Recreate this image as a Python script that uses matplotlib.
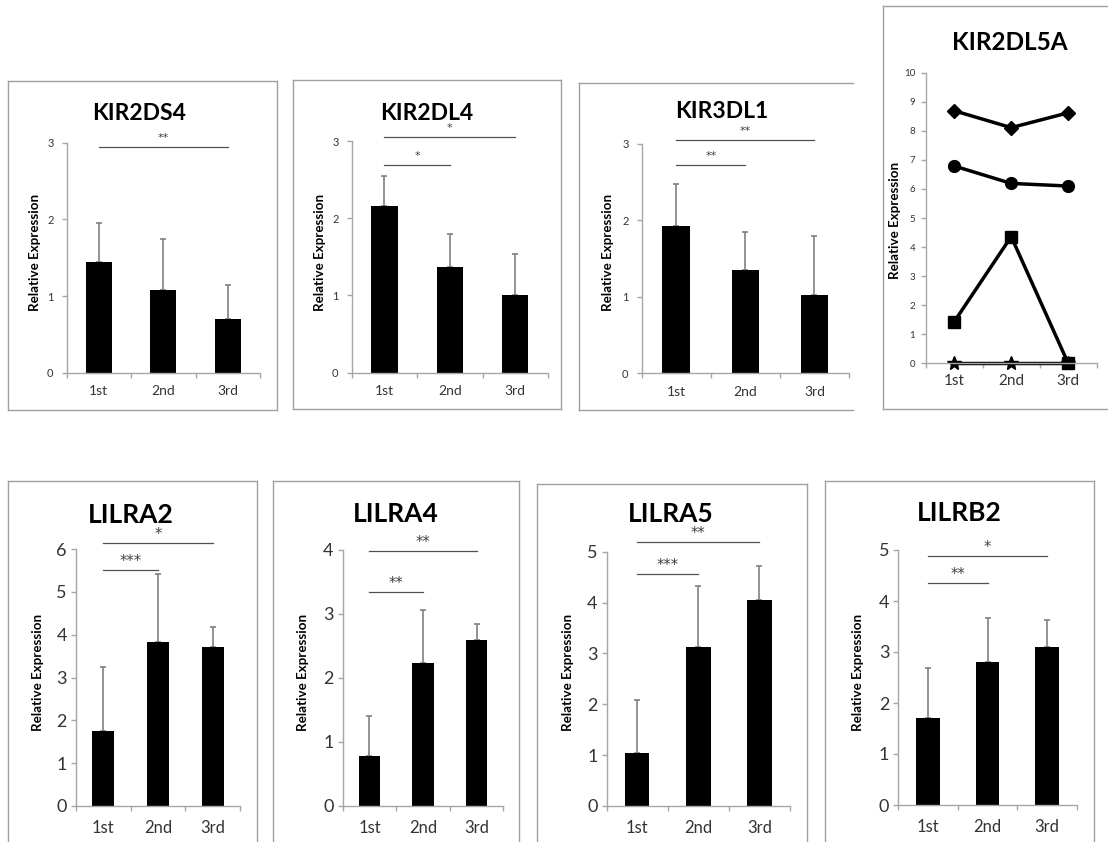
import numpy as np
import matplotlib
matplotlib.use("Agg")
import matplotlib.pyplot as plt
from matplotlib.lines import Line2D

plt.rcParams['font.family'] = ['Lato', 'DejaVu Sans']

W, H = 1108, 842
rounds = ["1st", "2nd", "3rd"]

# bar panels: mean relative expression and upper error (SD)
kir2ds4_mean = [1.44, 1.08, 0.70]
kir2ds4_err = [0.51, 0.66, 0.45]
kir2dl4_mean = [2.16, 1.37, 1.00]
kir2dl4_err = [0.39, 0.43, 0.54]
kir3dl1_mean = [1.93, 1.35, 1.03]
kir3dl1_err = [0.55, 0.50, 0.77]
lilra2_mean = [1.74, 3.82, 3.71]
lilra2_err = [1.50, 1.59, 0.46]
lilra4_mean = [0.78, 2.24, 2.59]
lilra4_err = [0.63, 0.82, 0.25]
lilra5_mean = [1.04, 3.12, 4.06]
lilra5_err = [1.04, 1.20, 0.66]
lilrb2_mean = [1.71, 2.81, 3.10]
lilrb2_err = [0.98, 0.86, 0.53]

# KIR2DL5A individual donors
kir2dl5a_a = [8.69, 8.11, 8.62]
kir2dl5a_b = [6.79, 6.19, 6.10]
kir2dl5a_c = [1.43, 4.36, 0.00]
kir2dl5a_d = [0.00, 0.00, 0.00]

# significance: (first group, second group, label)
kir2ds4_sig = [(0, 2, "**")]
kir2dl4_sig = [(0, 2, "*"), (0, 1, "*")]
kir3dl1_sig = [(0, 2, "**"), (0, 1, "**")]
lilra2_sig = [(0, 2, "*"), (0, 1, "***")]
lilra4_sig = [(0, 2, "**"), (0, 1, "**")]
lilra5_sig = [(0, 2, "**"), (0, 1, "***")]
lilrb2_sig = [(0, 2, "*"), (0, 1, "**")]

fig = plt.figure(figsize=(W / 100, H / 100), dpi=100)

def fx(x):
    return x / W

def fy(y):
    return 1 - y / H

def box(x0, y0, x1, y1, right=True, bottom=True):
    c = '#a0a0a0'
    segs = [((x0, x0), (y0, y1)), ((x0, x1), (y0, y0))]
    if right:
        segs.append(((x1, x1), (y0, y1)))
    if bottom:
        segs.append(((x0, x1), (y1, y1)))
    for xs, ys in segs:
        fig.add_artist(Line2D([fx(xs[0]), fx(xs[1])], [fy(ys[0]), fy(ys[1])],
                              color=c, lw=1.0, transform=fig.transFigure))

def make_axes(x0, x1, ybot, ytop, ymax, ytick_fs, xtick_fs, ypad, xpad, ystep=1):
    ax = fig.add_axes([fx(x0), fy(ybot), (x1 - x0) / W, (ybot - ytop) / H])
    ax.set_xlim(0, 3)
    ax.set_ylim(0, ymax)
    for s in ['top', 'right']:
        ax.spines[s].set_visible(False)
    for s in ['left', 'bottom']:
        ax.spines[s].set_color('#a6a6a6')
        ax.spines[s].set_linewidth(1.0)
    ax.set_yticks(np.arange(0, ymax + 0.01, ystep))
    ax.set_yticklabels([str(int(v)) for v in np.arange(0, ymax + 0.01, ystep)])
    ax.set_xticks([0, 1, 2, 3])
    ax.set_xticklabels([])
    ax.set_xticks([0.5, 1.5, 2.5], minor=True)
    ax.set_xticklabels(rounds, minor=True)
    ax.tick_params(axis='y', direction='out', length=3.5, width=1, color='#a6a6a6',
                   labelsize=ytick_fs, labelcolor='#333333', pad=ypad)
    ax.tick_params(axis='x', which='major', direction='out', length=3.5, width=1,
                   color='#a6a6a6')
    ax.tick_params(axis='x', which='minor', length=0, labelsize=xtick_fs,
                   labelcolor='#333333', pad=xpad)
    ax.patch.set_alpha(0)
    return ax

def bar_panel(mean, err, sig, title, ax_px, ymax, title_xy, ylab_xy, big):
    x0, x1, ybot, ytop = ax_px
    if big:
        ax = make_axes(x0, x1, ybot, ytop, ymax, 13, 12, 3, 10)
        tfs, sfs, soff = 19, 10.5, 2.9
    else:
        ax = make_axes(x0, x1, ybot, ytop, ymax, 8, 10, 6, 9)
        tfs, sfs, soff = 16.5, 8, 4.3
    xs = np.arange(3) + 0.5
    ax.bar(xs, mean, width=0.4, color='black', zorder=2)
    ax.errorbar(xs, mean, yerr=[np.zeros(3), err], fmt='none', ecolor='#808080',
                elinewidth=1.2, capsize=2.5, capthick=1.2, zorder=1)
    for k, (i, j, lab) in enumerate(sig):
        lvl = sig_levels[title][k]
        ax.plot([xs[i], xs[j]], [lvl, lvl], color='#505050', lw=0.9, clip_on=False)
        ax.annotate(lab, ((xs[i] + xs[j]) / 2, lvl), xytext=(0, soff),
                    textcoords='offset points', ha='center', va='baseline',
                    fontsize=sfs, color='#404040', family='DejaVu Sans',
                    annotation_clip=False)
    fig.text(fx(title_xy[0]), fy(title_xy[1]), title, ha='center', va='center',
             fontsize=tfs, fontweight='bold')
    fig.text(fx(ylab_xy[0]), fy(ylab_xy[1]), "Relative Expression", ha='center',
             va='center', rotation=90, fontsize=9.6, fontweight='bold')
    return ax

# heights of the significance lines (data units)
sig_levels = {
    "KIR2DS4": [2.95],
    "KIR2DL4": [3.05, 2.69],
    "KIR3DL1": [3.05, 2.72],
    "LILRA2": [6.13, 5.50],
    "LILRA4": [3.98, 3.35],
    "LILRA5": [5.20, 4.56],
    "LILRB2": [4.89, 4.35],
}

# panel frames
box(8, 81, 277, 410)
box(293, 80, 561, 409)
box(579, 83, 853, 410, right=False)
box(883, 6, 1108, 409, right=False)
box(8, 481, 257, 843, bottom=False)
box(273, 481, 519, 843, bottom=False)
box(537, 484, 807, 843, bottom=False)
box(825, 481, 1094, 843, bottom=False)

bar_panel(kir2ds4_mean, kir2ds4_err, kir2ds4_sig, "KIR2DS4",
          (66.7, 260, 372.7, 142.7), 3, (139, 113), (35, 252), False)
bar_panel(kir2dl4_mean, kir2dl4_err, kir2dl4_sig, "KIR2DL4",
          (351.7, 548, 372.7, 141), 3, (427, 113), (320, 252), False)
bar_panel(kir3dl1_mean, kir3dl1_err, kir3dl1_sig, "KIR3DL1",
          (641.7, 849, 373.3, 144), 3, (722, 112), (608, 252), False)
bar_panel(lilra2_mean, lilra2_err, lilra2_sig, "LILRA2",
          (76, 240, 806, 549), 6, (131, 515), (38, 672), True)
bar_panel(lilra4_mean, lilra4_err, lilra4_sig, "LILRA4",
          (342.7, 503.3, 806, 550), 4, (396, 514), (303, 672), True)
bar_panel(lilra5_mean, lilra5_err, lilra5_sig, "LILRA5",
          (606.7, 790, 806, 551.7), 5, (671, 514), (568, 672), True)
bar_panel(lilrb2_mean, lilrb2_err, lilrb2_sig, "LILRB2",
          (898.3, 1076.7, 805, 550), 5, (959, 513), (858, 672), True)

# KIR2DL5A line panel
ax = make_axes(925.7, 1096.7, 363.3, 72.7, 10, 7, 11, 4, 8)
xs = np.arange(3) + 0.5
ax.plot(xs, kir2dl5a_a, color='black', lw=2.5, marker='D', ms=7, clip_on=False)
ax.plot(xs, kir2dl5a_b, color='black', lw=2.5, marker='o', ms=8.5, clip_on=False)
ax.plot(xs, kir2dl5a_c, color='black', lw=2.5, marker='s', ms=8, clip_on=False)
ax.plot(xs, kir2dl5a_d, color='black', lw=2.5, marker='*', ms=10.5, clip_on=False)
fig.text(fx(1010), fy(43), "KIR2DL5A", ha='center', va='center', fontsize=17.5,
         fontweight='bold')
fig.text(fx(895), fy(220), "Relative Expression", ha='center', va='center',
         rotation=90, fontsize=9.6, fontweight='bold')

fig.savefig("out.png", dpi=100)
